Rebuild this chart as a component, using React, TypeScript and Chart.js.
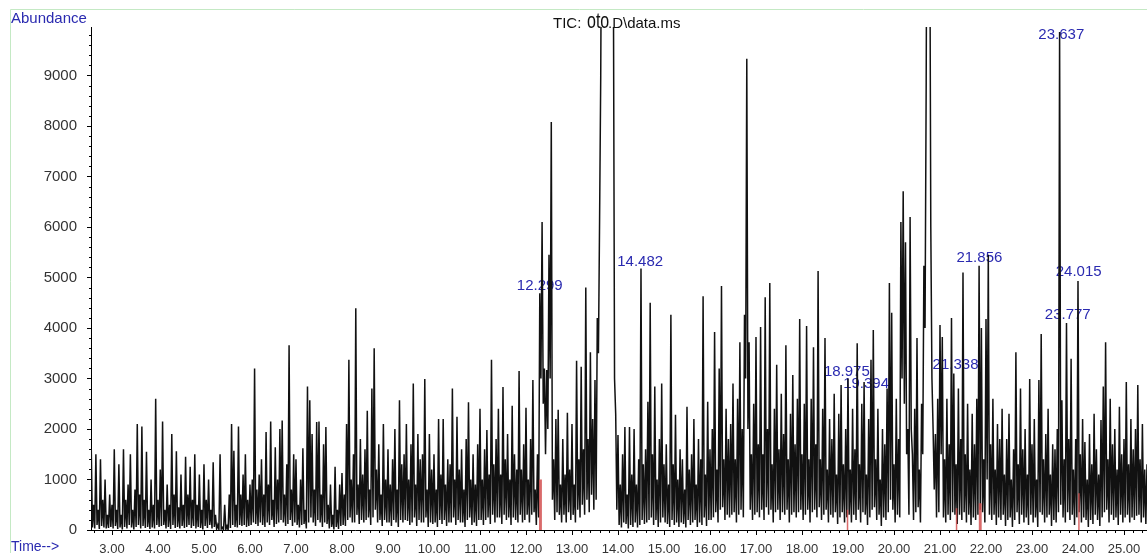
import React, { useEffect, useRef } from 'react';
import { Chart, registerables } from 'chart.js';

Chart.register(...registerables);

// Scan sampling of the chromatogram (minutes): main scans every 0.05 min, intermediate scans half a step later
const SCAN_START = 2.55;
const SCAN_STEP = 0.05;

// Abundance at the main scans, one array per minute
const seg02 = [1600, 500, 1500, 400, 1400, 600, 1000, 300, 700];
const seg03 = [500, 1600, 400, 1300, 300, 1600, 600, 900, 1500, 400, 800, 2100, 700, 2050, 600, 1550, 400, 1000, 500, 2600];
const seg04 = [600, 1200, 2150, 400, 900, 500, 1900, 700, 1560, 450, 1100, 500, 1450, 700, 1250, 600, 1500, 500, 1100, 400];
const seg05 = [1300, 600, 1000, 400, 1340, 300, 100, 1500, 50, 500, 80, 700, 2100, 1570, 500, 2050, 700, 1100, 1500, 600];
const seg06 = [900, 1000, 3200, 800, 1100, 1400, 700, 1940, 900, 2150, 600, 1640, 1000, 2000, 2170, 700, 1300, 3660, 800, 1500];
const seg07 = [1400, 500, 1000, 1620, 400, 2840, 2570, 1900, 800, 2140, 2150, 700, 1700, 2040, 500, 900, 300, 1250, 400, 900];
const seg08 = [1130, 700, 2100, 3370, 1000, 1500, 4390, 900, 1800, 1100, 1600, 2360, 800, 2800, 3600, 1200, 1700, 700, 2100, 1000];
const seg09 = [1600, 900, 1400, 2000, 800, 2570, 1300, 1500, 2100, 1000, 1700, 2900, 900, 1900, 1400, 1500, 2990, 800, 1900, 1200];
const seg10 = [1500, 800, 2200, 1100, 2200, 900, 1400, 1300, 2800, 1000, 2240, 1200, 1600, 800, 1800, 2530, 1000, 1500, 900, 1700];
const seg11 = [2400, 1000, 1600, 1980, 1100, 3370, 1300, 1800, 2400, 1100, 2830, 1400, 1900, 1000, 2460, 1500, 1200, 3150, 1200, 1700];
const seg12 = [2420, 1000, 1800, 2970, 800, 1500, 4690, 6100, 3200, 3170, 5450, 8080, 1400, 2200, 2380, 900, 1800, 1100, 2320, 1200];
const seg13 = [2100, 900, 3350, 1400, 3230, 1600, 4800, 1800, 3520, 2200, 2970, 4200, 6140, 14000, 22000, 30000, 26000, 15000, 11000, 2300];
const seg14 = [1880, 900, 1500, 2040, 700, 2040, 1100, 2000, 900, 1400, 5180, 1300, 1600, 2540, 4500, 1500, 2840, 1000, 1800, 2900];
const seg15 = [1300, 1700, 900, 4260, 1300, 2280, 1000, 1600, 1400, 800, 2440, 1200, 1500, 2200, 900, 1800, 1400, 4630, 1100, 2540];
const seg16 = [1600, 2000, 3920, 1200, 3200, 4830, 1400, 2400, 1800, 2100, 2900, 1400, 2600, 3720, 2000, 4260, 9330, 3720, 1500, 2500];
const seg17 = [3820, 1700, 4020, 1500, 4610, 2000, 4890, 1300, 2400, 3270, 1600, 2700, 1900, 3660, 1400, 2300, 3070, 1700, 2600, 4180];
const seg18 = [1500, 2500, 4040, 1400, 2600, 3620, 1700, 5130, 1400, 2400, 3800, 1200, 2200, 1800, 2700, 1100, 2300, 2870, 1300, 2000];
const seg19 = [3000, 1200, 2400, 1600, 3700, 1300, 2500, 2930, 1100, 2200, 3370, 3960, 1400, 2400, 1000, 2000, 1700, 2800, 4890, 4300];
const seg20 = [1300, 2600, 1800, 6100, 6710, 5700, 2000, 6200, 1500, 2400, 3800, 1200, 2500, 5230, 8870, 14000, 6000, 2000, 1900, 2600];
const seg21 = [4060, 3820, 1400, 2600, 1700, 4200, 3100, 1300, 2800, 1800, 5100, 1500, 2500, 1200, 2300, 1700, 2600, 5230, 4000, 1400];
const seg22 = [4180, 5450, 1700, 2600, 1200, 2100, 1800, 2400, 1100, 1800, 2300, 1000, 1600, 3520, 1300, 2800, 1600, 2000, 1100, 2990];
const seg23 = [1700, 2200, 1000, 2970, 3880, 1400, 1900, 2400, 1100, 1700, 1600, 2000, 9860, 2570, 1400, 4100, 1800, 3390, 1200, 1800];
const seg24 = [4930, 1500, 2200, 1740, 1000, 1900, 1300, 2300, 1600, 1100, 2180, 2840, 3720, 1400, 2600, 1700, 2000, 1200, 2440, 1500];
const seg25 = [1800, 2930, 1300, 2200, 1600, 2000, 2870, 1400, 2100, 1200, 1300];

// Abundance at the intermediate scans (half a step after each main scan)
const mid02 = [50, 30, 100, 20, 80, 50, 30, 40, 60];
const mid03 = [30, 80, 20, 50, 10, 60, 30, 100, 50, 10, 60, 100, 30, 80, 40, 60, 20, 50, 30, 100];
const mid04 = [60, 80, 100, 30, 60, 20, 100, 40, 60, 30, 80, 40, 60, 100, 40, 80, 30, 60, 40, 10];
const mid05 = [80, 40, 100, 30, 60, 20, 10, 20, 0, 10, 0, 40, 100, 60, 50, 100, 80, 100, 60, 80];
const mid06 = [100, 150, 120, 80, 150, 100, 60, 150, 100, 200, 60, 120, 150, 200, 150, 80, 120, 200, 80, 150];
const mid07 = [100, 50, 100, 120, 30, 150, 250, 150, 80, 200, 150, 60, 150, 120, 30, 60, 10, 60, 20, 80];
const mid08 = [100, 80, 200, 250, 150, 150, 300, 120, 200, 150, 200, 250, 100, 250, 400, 150, 200, 80, 200, 150];
const mid09 = [150, 80, 200, 150, 60, 200, 150, 200, 180, 100, 150, 250, 80, 200, 150, 150, 250, 60, 150, 120];
const mid10 = [150, 60, 200, 120, 200, 80, 150, 150, 250, 100, 200, 150, 150, 60, 200, 250, 100, 150, 80, 200];
const mid11 = [200, 100, 200, 250, 120, 300, 150, 250, 250, 120, 300, 200, 250, 100, 250, 200, 150, 300, 150, 200];
const mid12 = [300, 150, 300, 350, 100, 250, 3000, 2500, 1500, 2000, 3000, 600, 200, 350, 300, 150, 300, 150, 350, 200];
const mid13 = [300, 150, 400, 250, 500, 300, 600, 350, 700, 400, 600, 3500, 9000, 18000, 26000, 28000, 20000, 13000, 3000, 400];
const mid14 = [100, 50, 150, 120, 30, 100, 60, 150, 50, 100, 200, 120, 150, 200, 250, 100, 200, 60, 150, 250];
const mid15 = [150, 120, 60, 200, 100, 150, 60, 150, 120, 50, 200, 100, 150, 200, 60, 150, 100, 250, 80, 200];
const mid16 = [200, 250, 350, 150, 400, 450, 200, 300, 250, 300, 350, 150, 300, 400, 250, 3000, 2000, 400, 200, 300];
const mid17 = [350, 250, 400, 200, 450, 300, 400, 150, 350, 400, 200, 350, 300, 400, 150, 300, 350, 250, 350, 400];
const mid18 = [200, 300, 400, 150, 350, 400, 250, 450, 200, 300, 400, 150, 300, 250, 350, 120, 250, 350, 150, 250];
const mid19 = [300, 150, 300, 200, 400, 150, 350, 300, 100, 250, 400, 450, 200, 300, 80, 250, 200, 350, 600, 400];
const mid20 = [150, 300, 250, 3000, 2500, 1500, 300, 2000, 200, 350, 450, 150, 1500, 4000, 16000, 13000, 3000, 800, 250, 350];
const mid21 = [1500, 250, 150, 300, 200, 350, 300, 120, 300, 200, 350, 150, 300, 100, 250, 200, 300, 400, 350, 150];
const mid22 = [1000, 300, 200, 300, 100, 250, 200, 300, 80, 200, 250, 60, 200, 350, 120, 300, 150, 250, 100, 300];
const mid23 = [150, 250, 60, 350, 300, 150, 250, 300, 80, 200, 150, 350, 500, 250, 150, 350, 200, 300, 100, 250];
const mid24 = [350, 150, 250, 200, 60, 200, 120, 300, 200, 80, 250, 350, 400, 150, 300, 200, 250, 100, 300, 150];
const mid25 = [250, 300, 150, 250, 200, 280, 300, 150, 250, 120];

const mainScans = [
  ...seg02, ...seg03, ...seg04, ...seg05, ...seg06, ...seg07, ...seg08, ...seg09,
  ...seg10, ...seg11, ...seg12, ...seg13, ...seg14, ...seg15, ...seg16, ...seg17,
  ...seg18, ...seg19, ...seg20, ...seg21, ...seg22, ...seg23, ...seg24, ...seg25,
];
const midScans = [
  ...mid02, ...mid03, ...mid04, ...mid05, ...mid06, ...mid07, ...mid08, ...mid09,
  ...mid10, ...mid11, ...mid12, ...mid13, ...mid14, ...mid15, ...mid16, ...mid17,
  ...mid18, ...mid19, ...mid20, ...mid21, ...mid22, ...mid23, ...mid24, ...mid25,
];

// Integrated peak labels (retention time, label height in abundance units)
const peakLabels = ['12.299', '14.482', '18.975', '19.394', '21.338', '21.856', '23.637', '24.015', '23.777'];
const peakLabelTimes = [12.299, 14.482, 18.975, 19.394, 21.338, 21.856, 23.637, 24.015, 23.777];
const peakLabelLevels = [4830, 5310, 3130, 2890, 3270, 5390, 9800, 5110, 4260];

// Red integration marks at the base of some peaks
const markTimes = [12.30, 12.33, 18.99, 21.36, 21.86, 21.89, 24.02];
const markHeights = [1000, 1000, 400, 430, 530, 530, 730];

// Axis ranges and ticks
const X_MIN = 2.544;
const X_MAX = 25.5;
const Y_MAX = 9960;
const xTickValues = [3, 4, 5, 6, 7, 8, 9, 10, 11, 12, 13, 14, 15, 16, 17, 18, 19, 20, 21, 22, 23, 24, 25];
const yTickValues = [0, 1000, 2000, 3000, 4000, 5000, 6000, 7000, 8000, 9000];

const FONT = 'Arial, "Liberation Sans", sans-serif';
const BLUE = '#2a2ab0';

export default function App() {
  const ref = useRef<HTMLCanvasElement>(null);

  useEffect(() => {
    const points: { x: number; y: number }[] = [];
    mainScans.forEach((v, i) => {
      const t = SCAN_START + i * SCAN_STEP;
      points.push({ x: +t.toFixed(3), y: v });
      if (i < midScans.length) points.push({ x: +(t + SCAN_STEP / 2).toFixed(3), y: midScans[i] });
    });
    const marks: { x: number; y: number | null }[] = [];
    markTimes.forEach((t, i) => {
      marks.push({ x: t, y: 0 }, { x: t, y: markHeights[i] }, { x: t, y: null });
    });

    const decor = {
      id: 'decor',
      beforeDatasetsDraw(chart: any) {
        const { ctx, scales } = chart;
        const xs = scales.x, ys = scales.y;
        ctx.save();
        ctx.fillStyle = BLUE;
        ctx.font = `15px ${FONT}`;
        ctx.textAlign = 'center';
        ctx.textBaseline = 'middle';
        peakLabels.forEach((lab, i) => {
          ctx.fillText(lab, xs.getPixelForValue(peakLabelTimes[i]), ys.getPixelForValue(peakLabelLevels[i]));
        });
        ctx.restore();
      },
      afterDraw(chart: any) {
        const { ctx, scales, chartArea: a } = chart;
        const xs = scales.x, ys = scales.y;
        ctx.save();
        // tick marks
        ctx.strokeStyle = '#000';
        ctx.lineWidth = 1;
        ctx.beginPath();
        for (let k = Math.ceil(X_MIN * 5); k <= Math.floor(X_MAX * 5); k++) {
          const px = Math.round(xs.getPixelForValue(k / 5)) + 0.5;
          const len = k % 5 === 0 ? 5 : 3;
          ctx.moveTo(px, a.bottom);
          ctx.lineTo(px, a.bottom + len);
        }
        for (let v = 0; v <= Y_MAX; v += 200) {
          const py = Math.round(ys.getPixelForValue(v)) + 0.5;
          const len = v % 1000 === 0 ? 4 : 2;
          ctx.moveTo(a.left, py);
          ctx.lineTo(a.left - len, py);
        }
        ctx.stroke();

        // green frame
        ctx.strokeStyle = '#c4e9c4';
        ctx.beginPath();
        ctx.moveTo(10.5, 560);
        ctx.lineTo(10.5, 9.5);
        ctx.lineTo(1160, 9.5);
        ctx.stroke();

        // axis captions
        ctx.fillStyle = BLUE;
        ctx.textAlign = 'left';
        ctx.textBaseline = 'alphabetic';
        ctx.font = `15px ${FONT}`;
        ctx.fillText('Abundance', 11, 23);
        ctx.font = `14px ${FONT}`;
        ctx.fillText('Time-->', 11, 551);

        // title
        ctx.fillStyle = '#111';
        ctx.font = `15px ${FONT}`;
        ctx.fillText('TIC: ', 553, 28);
        ctx.save();
        ctx.translate(587, 28);
        ctx.scale(1, 1.35);
        ctx.font = `16px ${FONT}`;
        ctx.fillText('oto', 0, 0);
        ctx.restore();
        ctx.font = `15px ${FONT}`;
        ctx.fillText('.D\\data.ms', 608, 28);
        ctx.restore();
      },
    };

    const chart = new Chart(ref.current!, {
      type: 'line',
      data: {
        datasets: [
          {
            data: points,
            borderColor: '#111',
            borderWidth: 1.5,
            pointRadius: 0,
            tension: 0,
            order: 1,
          },
          {
            data: marks,
            borderColor: 'rgba(210,80,80,0.85)',
            borderWidth: 1.5,
            pointRadius: 0,
            spanGaps: false,
            order: 0,
          },
        ],
      },
      options: {
        responsive: false,
        devicePixelRatio: 1,
        animation: false,
        layout: { padding: { top: 27, right: 0, bottom: 0, left: 0 } },
        plugins: { legend: { display: false }, tooltip: { enabled: false }, title: { display: false } },
        scales: {
          x: {
            type: 'linear',
            min: X_MIN,
            max: X_MAX,
            grid: { display: false },
            border: { display: true, color: '#000', width: 1 },
            afterBuildTicks: (s: any) => { s.ticks = xTickValues.map((v) => ({ value: v })); },
            ticks: {
              autoSkip: false,
              maxRotation: 0,
              minRotation: 0,
              padding: 4,
              color: '#333',
              font: { family: FONT, size: 13 },
              callback: (v: any) => Number(v).toFixed(2),
            },
            afterFit: (s: any) => { s.height = 23; },
          },
          y: {
            type: 'linear',
            min: 0,
            max: Y_MAX,
            grid: { display: false },
            border: { display: true, color: '#000', width: 1 },
            afterBuildTicks: (s: any) => { s.ticks = yTickValues.map((v) => ({ value: v })); },
            ticks: {
              padding: 6,
              color: '#333',
              font: { family: FONT, size: 15 },
              callback: (v: any) => String(v),
            },
            afterFit: (s: any) => { s.width = 91; },
          },
        },
      },
      plugins: [decor],
    });
    return () => chart.destroy();
  }, []);

  return (
    <div style={{ position: 'absolute', left: 0, top: 0, width: 1147, height: 553, background: '#fff', overflow: 'hidden' }}>
      <canvas ref={ref} width={1147} height={553} style={{ display: 'block', width: 1147, height: 553 }} />
    </div>
  );
}
